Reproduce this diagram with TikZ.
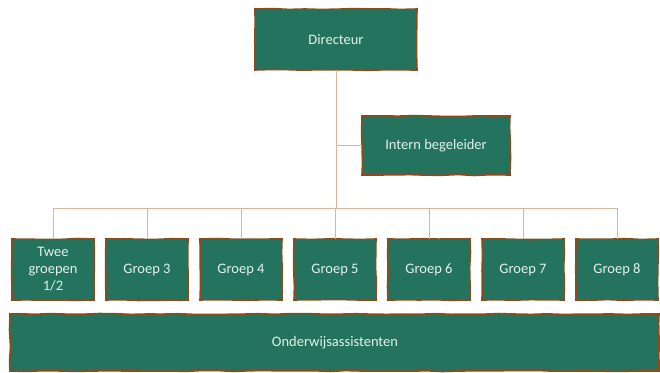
\documentclass[tikz,border=0pt]{standalone}
\usepackage{fontspec}
\setmainfont{Carlito}
\usetikzlibrary{decorations.pathmorphing}
\definecolor{boardgreen}{HTML}{23735E}
\definecolor{boardbrown}{HTML}{8E4A1C}
\definecolor{linkbrown}{HTML}{DDB49A}
\definecolor{chalk}{HTML}{E4F2EC}
\tikzset{
  x=1pt, y=-1pt,
  board/.style={draw=boardbrown, line width=1.6pt, fill=boardgreen,
    decorate, decoration={random steps, segment length=16pt, amplitude=0.5pt}},
  boardtext/.style={text=chalk, font=\fontsize{14.5}{16}\selectfont, align=center},
  link/.style={draw=linkbrown, line width=1pt},
}
\pgfmathsetseed{7}
\begin{document}
\begin{tikzpicture}
\useasboundingbox (0,0) rectangle (660,372);
% boxes
\path[board] (255,9) rectangle (417,70);
\node[boardtext] (dir) at (336,39.5) {Directeur};
\coordinate (dirB) at (336,70);
\path[board] (362,116) rectangle (510,175);
\node[boardtext] (ib) at (436,145.5) {Intern begeleider};
\coordinate (ibL) at (362,145);
\foreach \i/\cx/\t in {1/53/{Twee\\groepen\\1/2},2/147/{Groep 3},3/241/{Groep 4},4/335/{Groep 5},5/429/{Groep 6},6/523/{Groep 7},7/617/{Groep 8}}{
  \path[board] (\cx-41,239) rectangle (\cx+41,300);
  \node[boardtext, font=\fontsize{14.5}{17}\selectfont] (g\i) at (\cx,269.5) {\t};
  \coordinate (gT\i) at (\cx,239);
  \coordinate (bus\i) at (\cx,208);
}
\path[board] (10,314) rectangle (659,371);
\node[boardtext] (oa) at (335,343) {Onderwijsassistenten};
% connectors
\coordinate (busC) at (336,208);
\coordinate (ibJ) at (336,145);
\draw[link] (dirB) -- (busC);
\draw[link] (ibJ) -- (ibL);
\draw[link] (bus1) -- (bus7);
\foreach \i in {1,...,7}{\draw[link] (bus\i) -- (gT\i);}
\end{tikzpicture}
\end{document}
